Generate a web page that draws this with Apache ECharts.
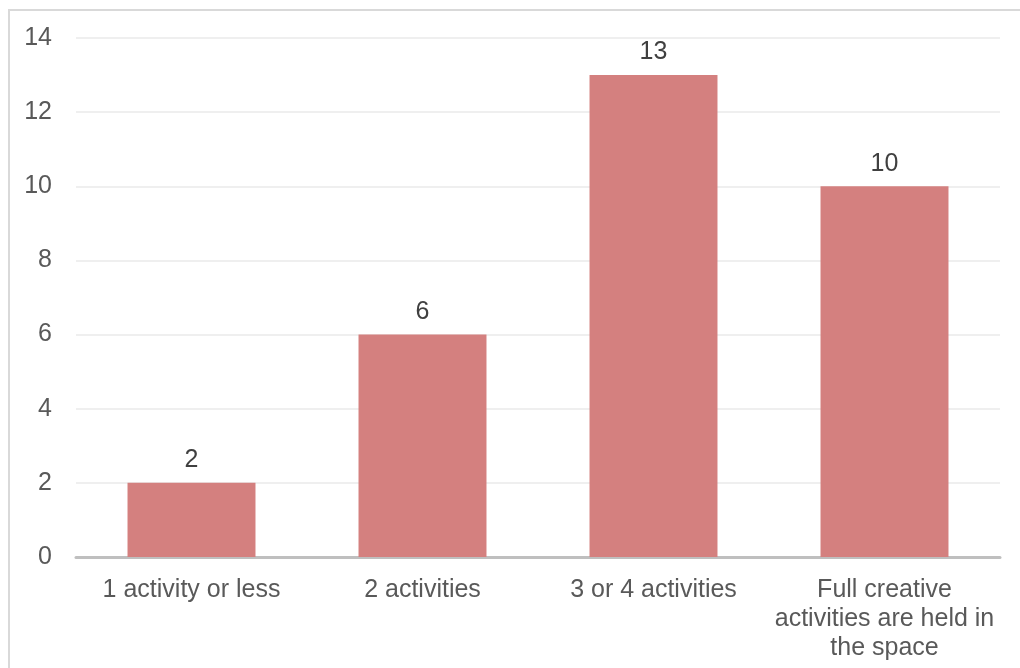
<!DOCTYPE html>
<html>
<head>
<meta charset="utf-8">
<script src="https://cdn.jsdelivr.net/npm/echarts@6/dist/echarts.min.js"></script>
<style>
html,body{margin:0;padding:0;background:#fff;}
#frame{position:absolute;left:8px;top:9px;width:1030px;height:680px;border:2px solid #d9d9d9;box-sizing:border-box;}
#chart{position:absolute;left:0;top:0;width:1020px;height:668px;}
</style>
</head>
<body>
<div id="frame"></div>
<div id="chart"></div>
<script>
const categories = ['1 activity or less', '2 activities', '3 or 4 activities', 'Full creative\nactivities are held in\nthe space'];
const values = [2, 6, 13, 10];
const yTicks = [0, 2, 4, 6, 8, 10, 12, 14];

const chart = echarts.init(document.getElementById('chart'), null, {renderer: 'canvas'});
chart.setOption({
  backgroundColor: 'transparent',
  animation: false,
  grid: {left: 76, right: 20, top: 38, bottom: 111, containLabel: false},
  xAxis: {
    type: 'category',
    data: categories,
    axisLine: {lineStyle: {color: '#bfbfbf', width: 3}},
    axisTick: {show: false},
    axisLabel: {color: '#595959', fontFamily: 'Liberation Sans, Arial, sans-serif', fontSize: 25, lineHeight: 29, margin: 19, interval: 0}
  },
  yAxis: {
    type: 'value',
    min: yTicks[0],
    max: yTicks[yTicks.length - 1],
    interval: 2,
    axisLine: {show: false},
    axisTick: {show: false},
    splitLine: {lineStyle: {color: '#efefef', width: 2}},
    axisLabel: {color: '#595959', fontFamily: 'Liberation Sans, Arial, sans-serif', fontSize: 25, margin: 24, padding: [4, 0, 0, 0]}
  },
  series: [{
    type: 'bar',
    data: values,
    barWidth: '55.4%',
    itemStyle: {color: '#d4807f'},
    label: {show: true, position: 'top', distance: 10, color: '#404040', fontFamily: 'Liberation Sans, Arial, sans-serif', fontSize: 25}
  }]
});
</script>
</body>
</html>
